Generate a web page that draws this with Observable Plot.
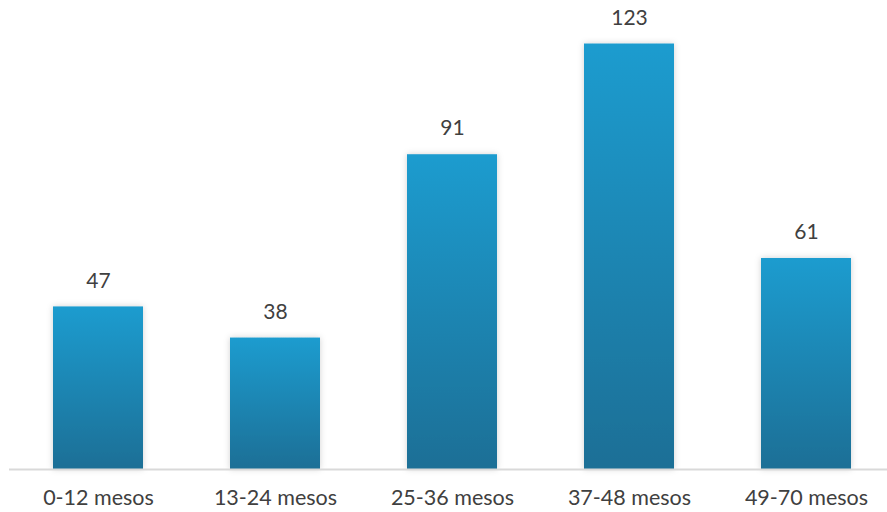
<!DOCTYPE html>
<html><head><meta charset="utf-8">
<script src="https://cdn.jsdelivr.net/npm/d3@7"></script>
<script src="https://cdn.jsdelivr.net/npm/@observablehq/plot@0.6"></script>
<style>body{margin:0;background:#fff}</style>
</head><body><div id="chart"></div>
<script>
const categories = ["0-12 mesos","13-24 mesos","25-36 mesos","37-48 mesos","49-70 mesos"];
const values = [47, 38, 91, 123, 61];
const data = categories.map((c,i)=>({cat:c, value:values[i]}));

const plot = Plot.plot({
  width: 887, height: 512,
  marginTop: 2, marginBottom: 43, marginLeft: 9, marginRight: 0,
  style: {fontFamily: "Lato, 'Open Sans', sans-serif", background: "#fff"},
  x: {domain: categories, range: [9.5, 895.5], paddingInner: 0.49, paddingOuter: 0.245, label: null},
  y: {domain: [0, 135], axis: null},
  marks: [
    () => {
      const ns = "http://www.w3.org/2000/svg";
      const defs = document.createElementNS(ns, "defs");
      defs.innerHTML = `<linearGradient id="barGrad" x1="0" y1="0" x2="0" y2="1">
        <stop offset="0" stop-color="#1E9CCF"/><stop offset="1" stop-color="#1A6F96"/></linearGradient>
        <filter id="shadow" x="-20%" y="-20%" width="140%" height="140%">
        <feDropShadow dx="0" dy="0" stdDeviation="3" flood-color="#000" flood-opacity="0.18"/></filter>`;
      return defs;
    },
    Plot.barY(data, {x: "cat", y: "value", fill: "url(#barGrad)"}),
    Plot.ruleY([0], {stroke: "#D9D9D9", strokeWidth: 2}),
    Plot.text(data, {x: "cat", y: "value", text: d => String(d.value), dy: -26, fontSize: 21, fill: "#404040"}),
    Plot.axisX({tickSize: 0, tickPadding: 20, fontSize: 21.5, color: "#404040", label: null})
  ]
});
plot.querySelectorAll("rect").forEach(r => r.setAttribute("filter","url(#shadow)"));
document.getElementById("chart").appendChild(plot);
</script></body></html>
